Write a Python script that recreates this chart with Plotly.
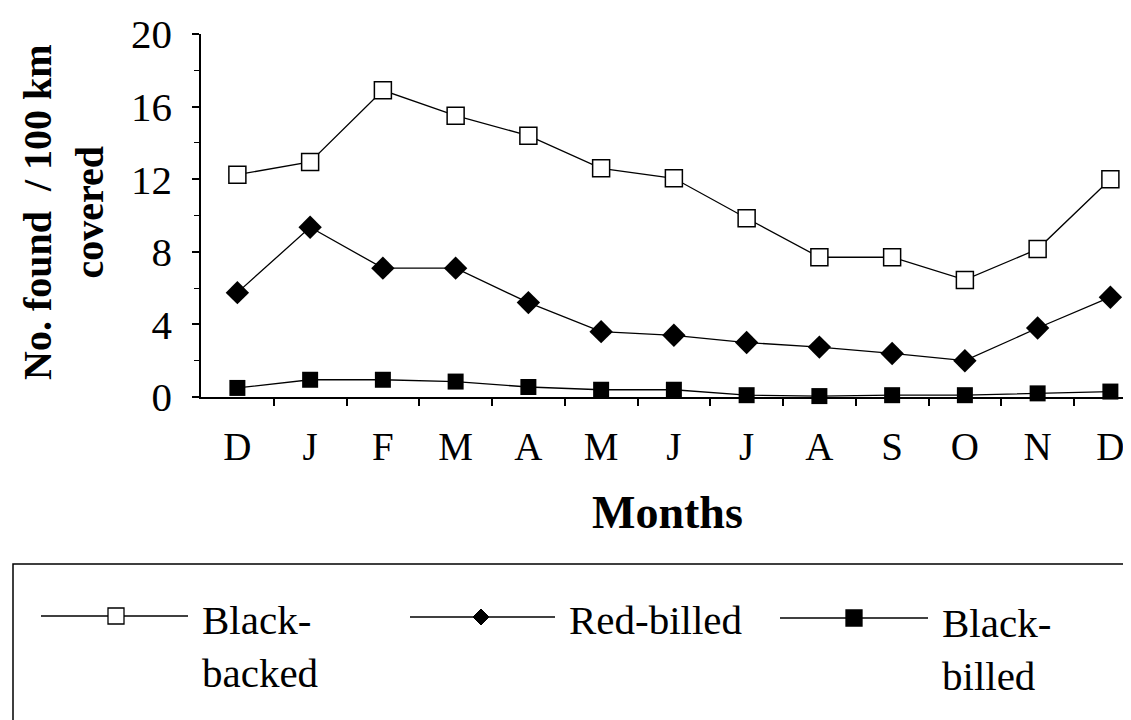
import plotly.graph_objects as go

months = ["D", "J", "F", "M", "A", "M", "J", "J", "A", "S", "O", "N", "D"]
black_backed = [12.25, 12.95, 16.9, 15.5, 14.4, 12.6, 12.05, 9.85, 7.7, 7.7, 6.45, 8.15, 12.0]
red_billed = [5.75, 9.35, 7.1, 7.1, 5.2, 3.6, 3.4, 3.0, 2.75, 2.4, 2.0, 3.8, 5.5]
black_billed = [0.5, 0.95, 0.95, 0.85, 0.55, 0.4, 0.4, 0.1, 0.05, 0.1, 0.1, 0.2, 0.3]
series_names = ["Black-<br>backed", "Red-billed", "Black-<br>billed"]
y_ticks = [0, 4, 8, 12, 16, 20]

x = list(range(len(months)))

W, H = 1131, 720
L, R, T, B = 193, 0, 26, 331
PW, PH = W - L - R, H - T - B
FONT = "Liberation Serif, Times New Roman, serif"


def px(v):
    return (v - L) / PW


def py(v):
    return (H - B - v) / PH


fig = go.Figure()

fig.add_trace(go.Scatter(
    x=x, y=black_backed, mode="lines+markers", name="Black-backed",
    line=dict(color="black", width=1.3),
    marker=dict(symbol="square", size=17, color="white", line=dict(color="black", width=1.5)),
    cliponaxis=False, showlegend=False))
fig.add_trace(go.Scatter(
    x=x, y=red_billed, mode="lines+markers", name="Red-billed",
    line=dict(color="black", width=1.3),
    marker=dict(symbol="diamond", size=18, color="black"),
    cliponaxis=False, showlegend=False))
fig.add_trace(go.Scatter(
    x=x, y=black_billed, mode="lines+markers", name="Black-billed",
    line=dict(color="black", width=1.3),
    marker=dict(symbol="square", size=16, color="black"),
    cliponaxis=False, showlegend=False))

fig.update_xaxes(
    range=[-0.5, -0.5 + PW / 72.75],
    tickmode="array", tickvals=x, ticktext=months,
    ticks="", showline=True, linecolor="black", linewidth=1.5,
    showgrid=False, zeroline=False,
    tickfont=dict(family=FONT, size=39, color="black"),
    ticklabelstandoff=14,
    minor=dict(tickmode="array", tickvals=[i + 0.5 for i in x], ticks="outside",
               ticklen=7, tickwidth=1.5, tickcolor="black"),
)
fig.update_yaxes(
    range=[0, 20], tickmode="array", tickvals=y_ticks,
    ticks="outside", ticklen=7, tickwidth=1.5, tickcolor="black",
    showline=True, linecolor="black", linewidth=1.5,
    showgrid=False, zeroline=False,
    tickfont=dict(family=FONT, size=41, color="black"),
    ticklabelstandoff=12,
    minor=dict(dtick=2, ticks="outside", ticklen=5, tickwidth=1.2, tickcolor="black"),
)

annotations = [
    dict(text="<b>No. found  / 100 km<br>covered</b>", textangle=-90,
         x=px(56), y=py(204), xref="paper", yref="paper",
         xanchor="center", yanchor="middle", showarrow=False,
         font=dict(family=FONT, size=40, color="black")),
    dict(text="<b>Months</b>", x=px(659), y=py(504), xref="paper", yref="paper",
         xanchor="center", yanchor="middle", showarrow=False,
         font=dict(family=FONT, size=46, color="black")),
]

shapes = [
    dict(type="rect", xref="paper", yref="paper",
         x0=px(5), x1=px(1145), y0=py(556), y1=py(735),
         line=dict(color="black", width=1.5), fillcolor="rgba(0,0,0,0)"),
]

legend_items = [
    # line x0, x1, y, marker x, text x, text y center
    dict(x0=33, x1=180, y=608, mx=108, tx=192, ty=638, kind="open_square"),
    dict(x0=402, x1=547, y=609, mx=473, tx=559, ty=612, kind="diamond"),
    dict(x0=772, x1=920, y=610, mx=846, tx=932, ty=641, kind="filled_square"),
]
for item, name in zip(legend_items, series_names):
    shapes.append(dict(type="line", xref="paper", yref="paper",
                       x0=px(item["x0"]), x1=px(item["x1"]),
                       y0=py(item["y"]), y1=py(item["y"]),
                       line=dict(color="black", width=1.3)))
    mx, my = item["mx"], item["y"]
    if item["kind"] == "diamond":
        d = 8
        path = (f"M {px(mx)} {py(my - d)} L {px(mx + d)} {py(my)} "
                f"L {px(mx)} {py(my + d)} L {px(mx - d)} {py(my)} Z")
        shapes.append(dict(type="path", xref="paper", yref="paper", path=path,
                           fillcolor="black", line=dict(color="black", width=1)))
    else:
        s = 8
        fill = "white" if item["kind"] == "open_square" else "black"
        shapes.append(dict(type="rect", xref="paper", yref="paper",
                           x0=px(mx - s), x1=px(mx + s), y0=py(my - s), y1=py(my + s),
                           fillcolor=fill, line=dict(color="black", width=1.3)))
    annotations.append(dict(text=name, x=px(item["tx"]), y=py(item["ty"]),
                            xref="paper", yref="paper", xanchor="left", yanchor="middle",
                            align="left", showarrow=False,
                            font=dict(family=FONT, size=41, color="black")))

fig.update_layout(
    width=W, height=H, autosize=False,
    margin=dict(l=L, r=R, t=T, b=B, pad=0),
    paper_bgcolor="white", plot_bgcolor="white",
    annotations=annotations, shapes=shapes,
    showlegend=False,
)

fig.write_html("out.html")
